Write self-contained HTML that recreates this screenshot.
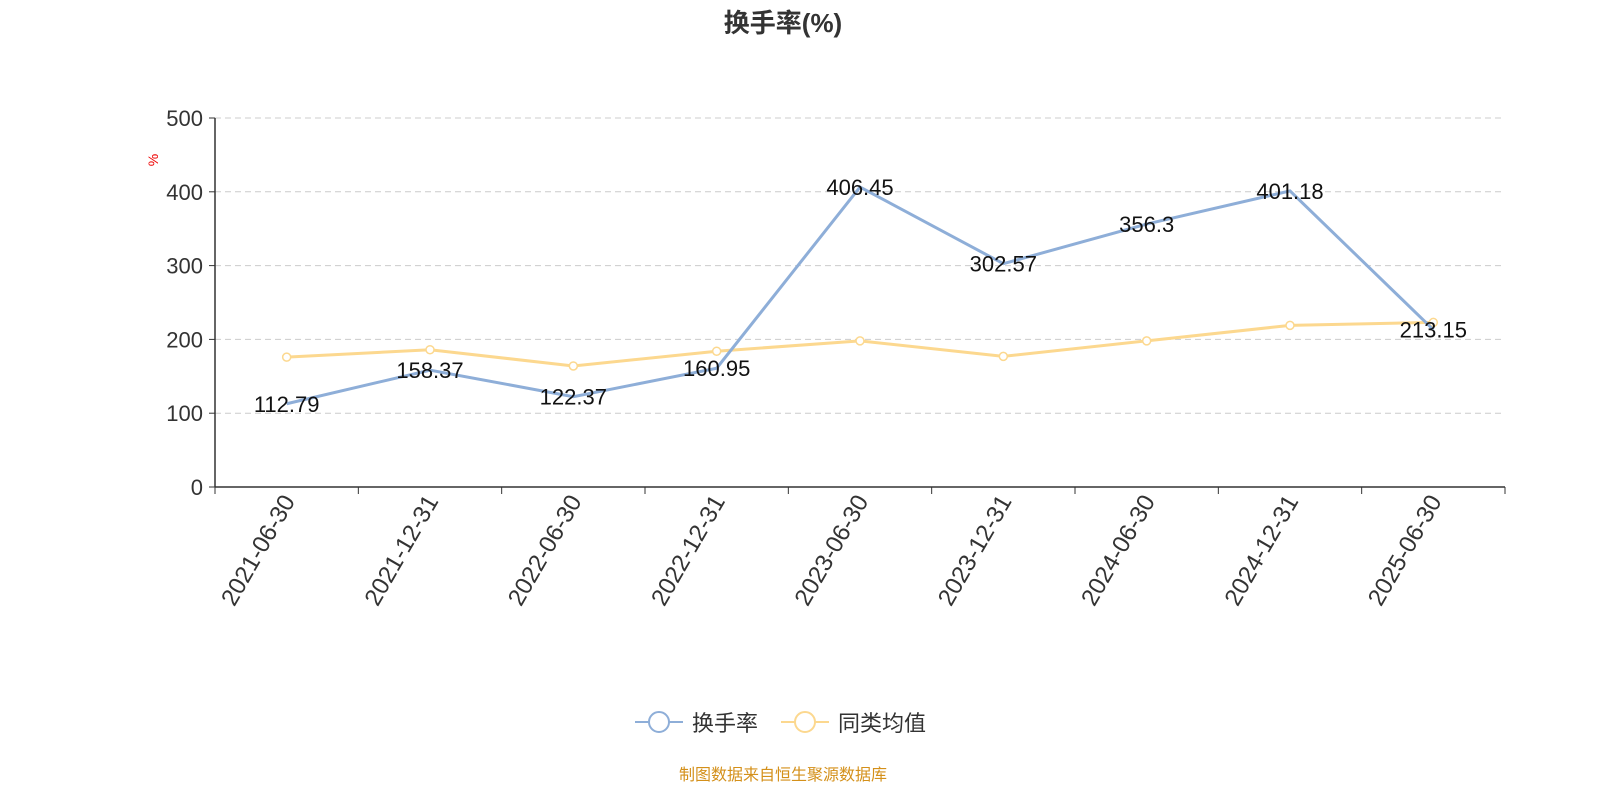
<!DOCTYPE html>
<html><head><meta charset="utf-8">
<style>
body{margin:0;background:#fff;}
svg{display:block;font-family:"Liberation Sans","Noto Sans CJK SC",sans-serif;}
</style></head>
<body>
<svg id="chart" width="1600" height="800">
<text x="783" y="32" text-anchor="middle" font-size="26" font-weight="bold" fill="#333">换手率(%)</text>
<text transform="translate(158,160) rotate(-90)" text-anchor="middle" font-size="14" fill="#e00">%</text>
<g id="grid"></g>
<g id="axes"></g>
<g id="series"></g>
<g>
 <g>
  <line x1="635" y1="722" x2="683" y2="722" stroke="#8eaed8" stroke-width="2"/>
  <circle cx="659" cy="722" r="10" fill="#fff" stroke="#8eaed8" stroke-width="2"/>
  <text x="692" y="731" font-size="22" fill="#333">换手率</text>
 </g>
 <g>
  <line x1="781" y1="722" x2="829" y2="722" stroke="#fcd88f" stroke-width="2"/>
  <circle cx="805" cy="722" r="10" fill="#fff" stroke="#fcd88f" stroke-width="2"/>
  <text x="838" y="731" font-size="22" fill="#333">同类均值</text>
 </g>
</g>
<text x="783" y="780" text-anchor="middle" font-size="16" fill="#d4901a">制图数据来自恒生聚源数据库</text>
</svg>
<script>
const categories=["2021-06-30","2021-12-31","2022-06-30","2022-12-31","2023-06-30","2023-12-31","2024-06-30","2024-12-31","2025-06-30"];
const turnover=[112.79,158.37,122.37,160.95,406.45,302.57,356.3,401.18,213.15];
const peerAvg=[176,186,164,184,198,177,198,219,223];
const yTicks=[0,100,200,300,400,500];
const NS="http://www.w3.org/2000/svg";
const x0=215,x1=1505,y0=487,y1=118;
const bw=(x1-x0)/categories.length;
const xs=i=>x0+bw*(i+0.5);
const ys=v=>y0-(v/500)*(y0-y1);
function mk(tag,attrs,parent,text){const e=document.createElementNS(NS,tag);for(const k in attrs)e.setAttribute(k,attrs[k]);if(text!==undefined)e.textContent=text;parent.appendChild(e);return e;}
const grid=document.getElementById('grid'),axes=document.getElementById('axes'),ser=document.getElementById('series');
yTicks.forEach(t=>{
 if(t>0){const g=mk('line',{x1:x0,x2:x1,y1:ys(t),y2:ys(t),stroke:'#ccc','stroke-dasharray':'6,4'},grid);
 
 }
 const tk=mk('line',{x1:x0-6,x2:x0,y1:ys(t),y2:ys(t),stroke:'#333'},axes);
 
 
 const l=mk('text',{x:x0-12,y:ys(t)+8,'text-anchor':'end','font-size':'22',fill:'#333'},axes,String(t));
 
 
});
const ya=mk('line',{x1:x0,x2:x0,y1:y1,y2:y0,stroke:'#333','stroke-width':1.5},axes);


const xa=mk('line',{x1:x0,x2:x1,y1:y0,y2:y0,stroke:'#333','stroke-width':1.5},axes);


for(let i=0;i<=categories.length;i++){
 const tk=mk('line',{x1:x0+bw*i,x2:x0+bw*i,y1:y0,y2:y0+7,stroke:'#333'},axes);
 
 
}
categories.forEach((c,i)=>{
 const t=mk('text',{transform:`translate(${xs(i)+9},${y0+14}) rotate(-60)`,'text-anchor':'end','font-size':'24',fill:'#333'},axes,c);
 
 
});
const pa=mk('polyline',{points:peerAvg.map((v,i)=>xs(i)+','+ys(v)).join(' '),fill:'none',stroke:'#fcd88f','stroke-width':3},ser);


peerAvg.forEach((v,i)=>{const c=mk('circle',{cx:xs(i),cy:ys(v),r:4,fill:'#fff',stroke:'#fcd88f','stroke-width':1.5},ser);
 
 });
const tl=mk('polyline',{points:turnover.map((v,i)=>xs(i)+','+ys(v)).join(' '),fill:'none',stroke:'#8eaed8','stroke-width':3},ser);


turnover.forEach((v,i)=>{const t=mk('text',{x:xs(i),y:ys(v)+8,'text-anchor':'middle','font-size':'22',fill:'#111'},ser,String(v));
 
 });
</script>
</body></html>
